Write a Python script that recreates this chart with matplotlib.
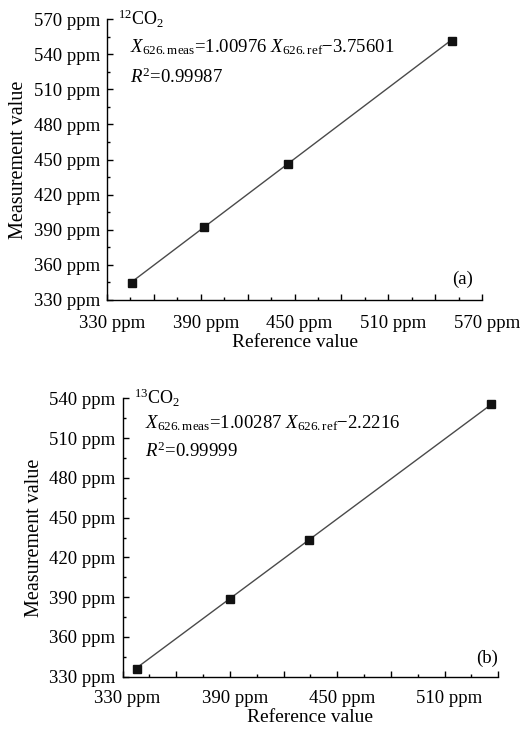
import numpy as np
import matplotlib
matplotlib.use('Agg')
import matplotlib.pyplot as plt
import matplotlib.transforms as mtransforms
from matplotlib.ticker import MultipleLocator, FuncFormatter

plt.rcParams['font.family'] = ['Liberation Serif', 'DejaVu Serif']
plt.rcParams['mathtext.fontset'] = 'custom'
plt.rcParams['mathtext.rm'] = 'Liberation Serif'
plt.rcParams['mathtext.it'] = 'Liberation Serif:italic'

# panel (a): 12CO2
ref_a = [346.2, 392.3, 445.6, 550.6]
meas_a = [344.5, 392.3, 446.4, 550.9]
slope_a, icpt_a = 1.00976, -3.75601
r2_a = '0.99987'

# panel (b): 13CO2
ref_b = [338.1, 390.2, 434.3, 535.9]
meas_b = [335.8, 388.9, 432.9, 536.0]
slope_b, icpt_b = 1.00287, -2.2216
r2_b = '0.99999'

W, H = 531, 729
fig = plt.figure(figsize=(W / 100, H / 100), dpi=100)

ax_a = fig.add_axes([107 / W, 1 - 300 / H, 375 / W, 281 / H])
ax_b = fig.add_axes([122.5 / W, 1 - 676.7 / H, 375.8 / W, 278.4 / H])


def ppm_fmt(step_label):
    def f(v, pos):
        r = (v - 330) % step_label
        if r < 1e-6 or step_label - r < 1e-6:
            return '%d ppm' % round(v)
        return ''
    return FuncFormatter(f)


def style(ax, xmax, ymax, ref, meas, slope, icpt, eq, r2, iso, tag, pos):
    xs = np.array([min(ref), max(ref)])
    ax.plot(xs, slope * xs + icpt, color='#4a4a4a', lw=1.0, zorder=2)
    ax.plot(ref, meas, 's', color='#111111', ms=5.5, zorder=3)
    ax.set_xlim(330, xmax)
    ax.set_ylim(330, ymax)
    for s in ['top', 'right']:
        ax.spines[s].set_visible(False)
    for s in ['left', 'bottom']:
        ax.spines[s].set_linewidth(1.0)
    ax.xaxis.set_major_locator(MultipleLocator(30))
    ax.xaxis.set_minor_locator(MultipleLocator(15))
    ax.xaxis.set_major_formatter(ppm_fmt(60))
    ax.yaxis.set_major_locator(MultipleLocator(30))
    ax.yaxis.set_minor_locator(MultipleLocator(15))
    ax.yaxis.set_major_formatter(ppm_fmt(30))
    ax.tick_params(which='major', direction='in', length=4, width=1.0,
                   labelsize=13.5, top=False, right=False)
    ax.tick_params(which='minor', direction='in', length=2, width=1.0,
                   top=False, right=False)
    ax.tick_params(axis='x', pad=pos['xpad'])
    ax.tick_params(axis='y', pad=5)
    # tick labels sit a bit right of their ticks in the original
    shift = mtransforms.ScaledTranslation(5 / 100, 0, fig.dpi_scale_trans)
    for lab in ax.get_xticklabels():
        lab.set_transform(lab.get_transform() + shift)
    ax.set_xlabel('Reference value', fontsize=14, labelpad=pos['xlp'])
    ax.set_ylabel('Measurement value', fontsize=14.5, labelpad=4)
    ax.text(0.03, 1.0, r'$^{%s}$CO$_2$' % iso, transform=ax.transAxes,
            fontsize=13, va='center', ha='left')
    ax.text(0.06, pos['eq'], eq, transform=ax.transAxes, fontsize=13.5,
            va='center', ha='left')
    ax.text(0.06, pos['r2'], r'$R^2$=' + r2, transform=ax.transAxes, fontsize=13.5,
            va='center', ha='left')
    ax.text(pos['tx'], pos['ty'], tag, transform=ax.transAxes, fontsize=13.5,
            ha='right', va='center')


eq_a = r'$X_{\mathrm{626.meas}}$=1.00976 $X_{\mathrm{626.ref}}$$-$3.75601'
eq_b = r'$X_{\mathrm{626.meas}}$=1.00287 $X_{\mathrm{626.ref}}$$-$2.2216'

style(ax_a, 570, 570, ref_a, meas_a, slope_a, icpt_a, eq_a, r2_a, '12', '(a)',
      dict(xpad=11, xlp=1.5, eq=0.90, r2=0.794, tx=0.975, ty=0.075))
style(ax_b, 540, 540, ref_b, meas_b, slope_b, icpt_b, eq_b, r2_b, '13', '(b)',
      dict(xpad=9.5, xlp=1.5, eq=0.91, r2=0.808, tx=1.0, ty=0.067))

fig.savefig('out.png', dpi=100, facecolor='white')
